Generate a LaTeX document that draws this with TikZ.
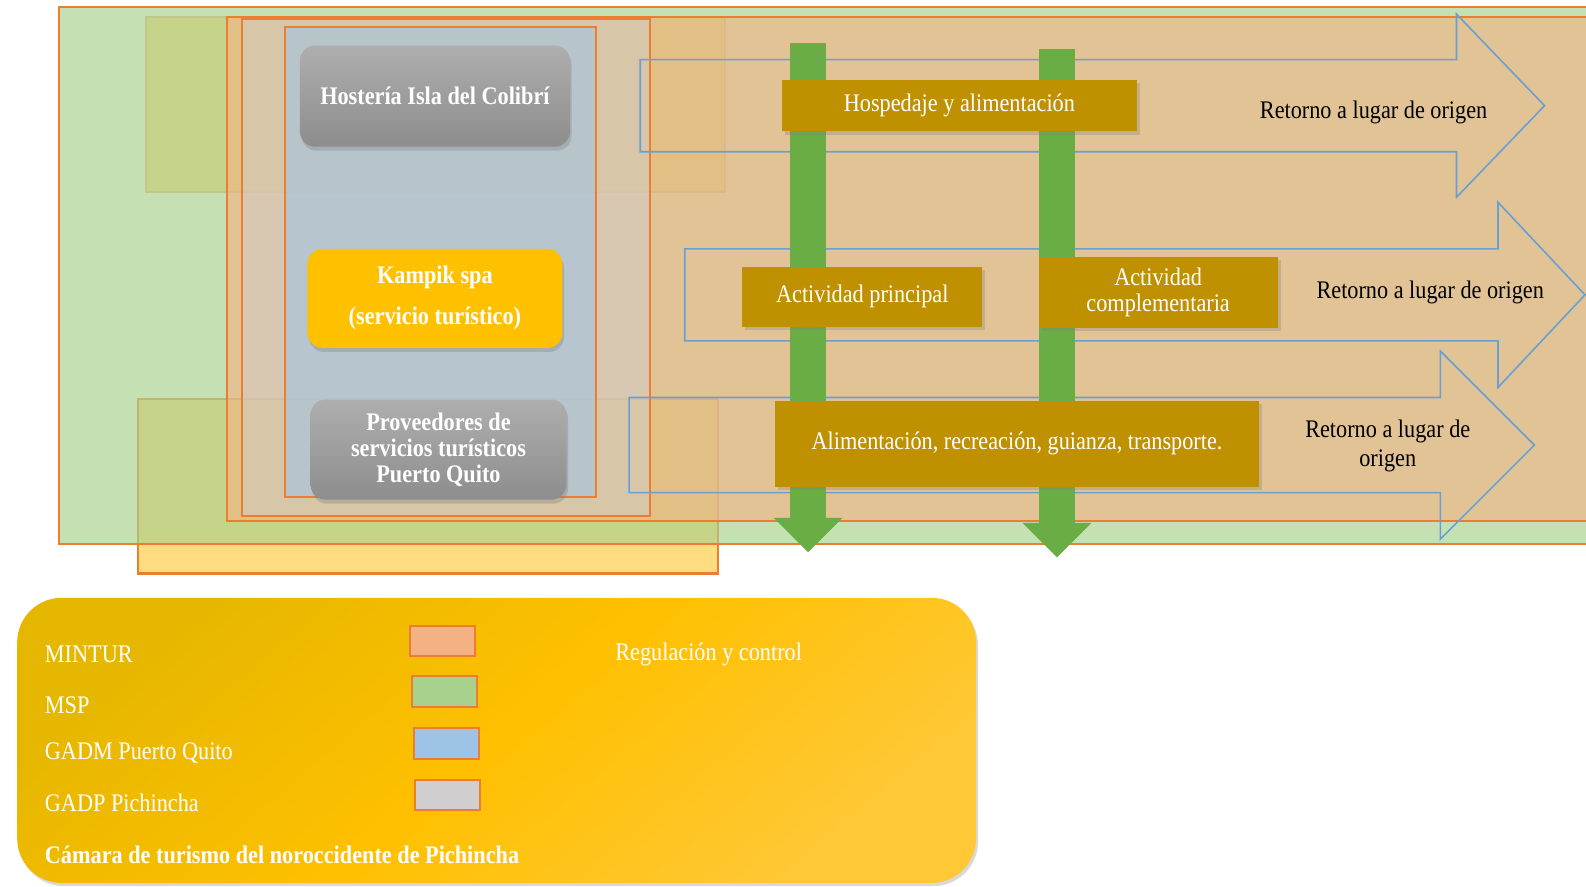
\documentclass[tikz,border=0pt]{standalone}
\usepackage{fontspec}
\setmainfont{Liberation Serif}[FakeStretch=0.88]
\usepackage{xcolor}
\usepackage{tikz}
\usetikzlibrary{arrows.meta,shadows}

\definecolor{mintur}{HTML}{F4B183}
\definecolor{msp}{HTML}{A9D18E}
\definecolor{gadm}{HTML}{9DC3E6}
\definecolor{gadp}{HTML}{D0CECE}
\definecolor{camara}{HTML}{FFDC80}
\definecolor{rim}{HTML}{ED7D31}
\definecolor{flowline}{HTML}{6A9FD2}
\definecolor{gold}{HTML}{BF9000}
\definecolor{barg}{HTML}{6AAD45}
\definecolor{spa}{HTML}{FFC000}
\definecolor{boxtop}{HTML}{AEAEAE}
\definecolor{boxbot}{HTML}{8D8D8D}
\definecolor{legtop}{HTML}{E6B700}
\definecolor{legbot}{HTML}{FFC836}

\begin{document}
\begin{tikzpicture}[x=0.5pt,y=-0.5pt,
	every node/.style={font=\fontsize{12.5}{14}\selectfont},
	zone/.style={draw=rim,line width=1pt},
	agentbox/.style={rounded corners=7.5pt,text=white,align=center,inner sep=0pt,
		font=\bfseries\fontsize{12.5}{12.8}\selectfont,
		drop shadow={shadow xshift=0.8pt,shadow yshift=-2pt,opacity=0.35}},
	graybox/.style={agentbox,top color=boxtop,bottom color=boxbot},
	spabox/.style={agentbox,fill=spa},
	stagebox/.style={fill=gold,text=white,align=center,inner sep=0pt,
		font=\fontsize{12.5}{13}\selectfont,
		drop shadow={shadow xshift=1.5pt,shadow yshift=-1.5pt,opacity=0.3}},
	flowarrow/.style={draw=flowline,line width=0.8pt},
	greenbar/.style={draw=barg,line width=18pt,-{Triangle[width=34pt,length=17pt,line width=0pt]}},
	legendbox/.style={rounded corners=22pt,inner sep=0pt,top color=legtop,bottom color=legbot,
		middle color=spa,shading angle=40,
		drop shadow={shadow xshift=1pt,shadow yshift=-1.5pt,opacity=0.3}},
	legtext/.style={text=white,anchor=west,inner sep=0pt},
	swatch/.style={draw=rim,line width=1pt,minimum width=32.5pt,minimum height=15pt,inner sep=0pt}]
	\useasboundingbox (0,0) rectangle (1568,876);
	%
	% institutions
	\draw[zone,draw=rim!60,fill=camara] (144,17) rectangle (717,190);
	\draw[zone,fill=camara] (136,394) rectangle (710,567);
	\draw[zone,fill=msp,fill opacity=0.67] (58,7) rectangle (1590,538);
	\draw[zone,fill=mintur,fill opacity=0.6] (224,17) rectangle (1590,515);
	\draw[zone,fill=gadp,fill opacity=0.5] (239,19) rectangle (643,510);
	\draw[zone,fill=gadm,fill opacity=0.55] (282,27) rectangle (589,491);
	%
	% return arrows
	\draw[flowarrow] (633,59) -- (1440,59) -- (1440,14) -- (1527,104.5) -- (1440,195) -- (1440,150) -- (633,150) -- cycle;
	\draw[flowarrow] (677,246) -- (1481,246) -- (1481,200) -- (1567,291.5) -- (1481,383) -- (1481,337) -- (677,337) -- cycle;
	\draw[flowarrow] (622,393) -- (1424,393) -- (1424,347) -- (1517,440) -- (1424,533) -- (1424,487) -- (622,487) -- cycle;
	%
	% vertical bars
	\coordinate (barAtop) at (799,43);
	\coordinate (barAend) at (799,546);
	\coordinate (barBtop) at (1045,48);
	\coordinate (barBend) at (1045,551);
	\draw[greenbar] (barAtop) -- (barAend);
	\draw[greenbar] (barBtop) -- (barBend);
	%
	% actors
	\node[graybox,minimum width=133.5pt,minimum height=50pt] (hosteria) at (430,95) {Hostería Isla del Colibrí};
	\node[spabox,minimum width=126pt,minimum height=49pt] (kampik) at (430,295) {Kampik spa\\[7.5pt](servicio turístico)};
	\node[graybox,minimum width=126.5pt,minimum height=49.5pt] (proveedores) at (433.5,444.5) {Proveedores de\\servicios turísticos\\Puerto Quito};
	%
	% stages
	\node[stagebox,minimum width=175.5pt,minimum height=25.5pt] (hospedaje) at (948.5,104.5) {Hospedaje y alimentación};
	\node[stagebox,minimum width=118.5pt,minimum height=29.5pt] (principal) at (852.5,293.5) {Actividad principal};
	\node[stagebox,minimum width=118pt,minimum height=35pt] (complementaria) at (1145,289) {Actividad\\complementaria};
	\node[stagebox,minimum width=239.5pt,minimum height=42.5pt] (servicios) at (1005.5,438.5) {Alimentación, recreación, guianza, transporte.};
	%
	\node (retornoA) at (1358,111) {Retorno a lugar de origen};
	\node (retornoB) at (1414,289) {Retorno a lugar de origen};
	\node[align=center] (retornoC) at (1372,441) {Retorno a lugar de\\origen};
	%
	% legend
	\node[legendbox,minimum width=474pt,minimum height=141pt] (legend) at (491,732) {};
	\node[legtext] (lmintur) at (44,647) {MINTUR};
	\node[legtext] (lmsp) at (44,697) {MSP};
	\node[legtext] (lgadm) at (44,745) {GADM Puerto Quito};
	\node[legtext] (lgadp) at (44,794) {GADP Pichincha};
	\node[legtext,font=\bfseries\fontsize{12.5}{14}\selectfont] (lcamara) at (44,845) {Cámara de turismo del noroccidente de Pichincha};
	\node[legtext] (lregula) at (608,647) {Regulación y control};
	\node[swatch,fill=mintur] (swmintur) at (437.5,633.5) {};
	\node[swatch,fill=msp] (swmsp) at (439.5,683.5) {};
	\node[swatch,fill=gadm] (swgadm) at (441.5,735) {};
	\node[swatch,fill=gadp] (swgadp) at (442.5,786) {};
\end{tikzpicture}
\end{document}
